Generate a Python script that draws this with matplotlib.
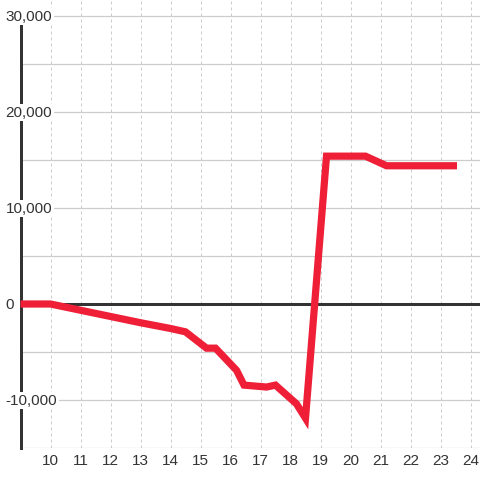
import matplotlib
matplotlib.use("Agg")
import matplotlib.pyplot as plt

plt.rcParams['font.family'] = ['Liberation Sans', 'DejaVu Sans']

hours = [9, 10, 11, 12, 13, 14, 14.5, 15.2, 15.5, 16.2, 16.45, 17.2, 17.5,
         18.2, 18.5, 19.2, 20.5, 21.2, 23.55]
values = [0, 0, -650, -1300, -1950, -2550, -2900, -4600, -4600, -6900, -8450,
          -8650, -8450, -10400, -11900, 15400, 15400, 14400, 14400]

x_ticks = list(range(10, 25))
y_grid = [-15000, -10000, -5000, 0, 5000, 10000, 15000, 20000, 25000, 30000]
y_labels = {30000: "30,000", 20000: "20,000", 10000: "10,000", 0: "0", -10000: "-10,000"}

fig = plt.figure(figsize=(4.8, 4.8), dpi=100)
W = 480.0
ax = fig.add_axes([20.5 / W, 32 / W, 459.5 / W, 448 / W])
ax.set_xlim(9, 9 + 459.5 / 30)
ax.set_ylim(-15000, 30000 + 16 / 96 * 10000)

for s in ['top', 'right', 'bottom']:
    ax.spines[s].set_visible(False)
ax.spines['left'].set_bounds(-15000, 30000)
ax.spines['left'].set_color('#333333')
ax.spines['left'].set_linewidth(2.16)

ax.set_axisbelow(True)
ax.set_yticks(y_grid)
ax.set_xticks(x_ticks)
ax.tick_params(axis='y', length=0, labelleft=False)
ax.tick_params(axis='x', length=0, pad=4.5, labelsize=11, labelcolor='#333333')
ax.yaxis.grid(True, color='#cccccc', lw=0.9)
ax.xaxis.grid(True, color='#cccccc', lw=0.72, linestyle=(0, (3, 3)))

ax.axhline(0, color='#333333', lw=2.16, zorder=2.6)
ax.plot(hours, values, color='#ee1f37', lw=5.2, zorder=3,
        solid_joinstyle='miter', solid_capstyle='butt', clip_on=False)

tr = ax.get_yaxis_transform()
for v, lab in y_labels.items():
    ax.text((5.5 - 20.5) / 459.5, v - 60, lab, transform=tr, ha='left', va='center',
            fontsize=11, color='#333333', clip_on=False, zorder=5,
            bbox=dict(facecolor='white', edgecolor='none', pad=1.2))

fig.savefig('out.png', dpi=100, facecolor='white')
